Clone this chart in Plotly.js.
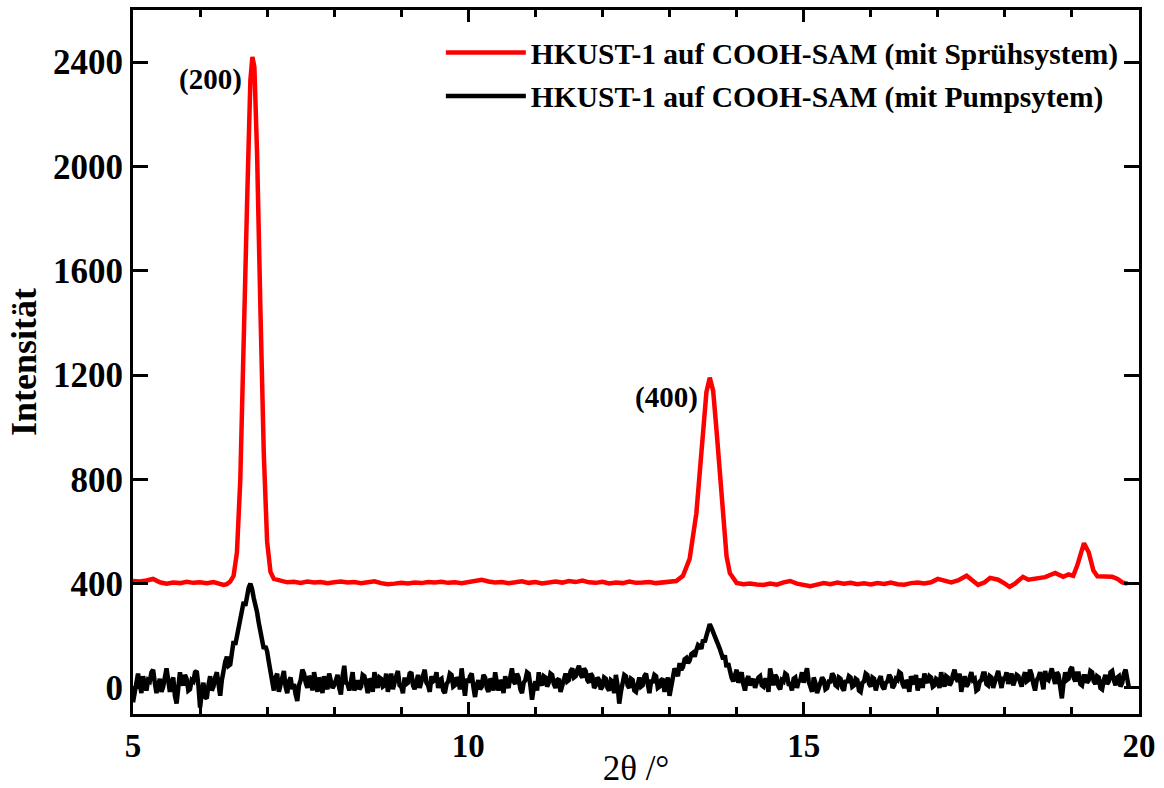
<!DOCTYPE html>
<html>
<head>
<meta charset="utf-8">
<script src="https://cdn.plot.ly/plotly-3.0.1.min.js"></script>
<style>html,body{margin:0;padding:0;background:#fff;}#chart{width:1164px;height:788px;}</style>
</head>
<body>
<div id="chart"></div>
<script>
// Red series: HKUST-1 auf COOH-SAM (mit Sprühsystem)
const redX = [5.00,5.10,5.20,5.30,5.40,5.50,5.60,5.70,5.80,5.90,6.00,6.10,6.20,6.30,6.35,6.40,6.45,6.50,6.55,6.60,6.65,6.70,6.75,6.78,6.81,6.85,6.90,6.95,7.00,7.05,7.10,7.20,7.30,7.40,7.50,7.60,7.70,7.80,7.90,8.00,8.10,8.20,8.30,8.40,8.50,8.60,8.70,8.80,8.90,9.00,9.10,9.20,9.30,9.40,9.50,9.60,9.70,9.80,9.90,10.00,10.10,10.20,10.30,10.40,10.50,10.60,10.70,10.80,10.90,11.00,11.10,11.20,11.30,11.40,11.50,11.60,11.70,11.80,11.90,12.00,12.10,12.20,12.30,12.40,12.50,12.60,12.70,12.80,12.90,13.00,13.10,13.20,13.30,13.40,13.45,13.50,13.55,13.60,13.65,13.70,13.75,13.80,13.85,13.90,14.00,14.10,14.20,14.30,14.40,14.50,14.60,14.70,14.80,14.90,15.00,15.10,15.20,15.30,15.40,15.50,15.60,15.70,15.80,15.90,16.00,16.10,16.20,16.30,16.40,16.50,16.60,16.70,16.80,16.90,17.00,17.10,17.20,17.30,17.43,17.60,17.70,17.78,17.90,18.00,18.07,18.15,18.27,18.35,18.48,18.60,18.75,18.87,18.95,19.02,19.08,19.18,19.25,19.32,19.38,19.50,19.60,19.68,19.75,19.83];
const redY = [410,408,412,418,405,400,404,402,407,403,405,402,406,398,395,398,408,430,520,800,1250,1850,2330,2420,2380,2050,1450,900,560,445,418,410,405,407,403,408,404,406,402,405,408,404,406,402,404,409,402,398,400,403,401,404,402,406,404,407,403,405,402,406,410,415,408,404,406,402,405,409,403,406,401,404,408,404,410,406,412,405,403,407,401,404,402,408,403,404,406,402,405,404,410,430,495,670,810,990,1135,1190,1140,990,810,630,505,440,403,398,400,397,395,400,396,405,410,400,393,390,396,402,398,404,400,403,398,401,397,402,399,404,398,396,402,404,401,405,418,410,405,412,430,395,405,422,415,400,388,400,426,415,418,425,441,426,435,430,470,555,520,450,428,428,426,418,405,400];

// Black series: HKUST-1 auf COOH-SAM (mit Pumpsytem)
const blackX = [
5,5.025,5.05,5.075,5.1,5.125,5.15,5.175,5.2,5.225,5.25,5.275,5.3,5.325,5.35,5.375,5.4,5.425,5.45,5.475,5.5,5.525,5.55,5.575,5.6,5.625,5.65,5.675,5.7,5.725,5.75,5.775,5.8,5.825,5.85,5.875,5.9,5.925,5.95,5.975,
6,6.025,6.05,6.075,6.1,6.125,6.15,6.175,6.2,6.225,6.25,6.275,6.3,6.325,6.35,6.375,6.4,6.425,6.45,6.475,6.5,6.525,6.55,6.575,6.6,6.625,6.65,6.675,6.7,6.725,6.75,6.775,6.8,6.825,6.85,6.875,6.9,6.925,6.95,6.975,
7,7.025,7.05,7.075,7.1,7.125,7.15,7.175,7.2,7.225,7.25,7.275,7.3,7.325,7.35,7.375,7.4,7.425,7.45,7.475,7.5,7.525,7.55,7.575,7.6,7.625,7.65,7.675,7.7,7.725,7.75,7.775,7.8,7.825,7.85,7.875,7.9,7.925,7.95,7.975,
8,8.025,8.05,8.075,8.1,8.125,8.15,8.175,8.2,8.225,8.25,8.275,8.3,8.325,8.35,8.375,8.4,8.425,8.45,8.475,8.5,8.525,8.55,8.575,8.6,8.625,8.65,8.675,8.7,8.725,8.75,8.775,8.8,8.825,8.85,8.875,8.9,8.925,8.95,8.975,
9,9.025,9.05,9.075,9.1,9.125,9.15,9.175,9.2,9.225,9.25,9.275,9.3,9.325,9.35,9.375,9.4,9.425,9.45,9.475,9.5,9.525,9.55,9.575,9.6,9.625,9.65,9.675,9.7,9.725,9.75,9.775,9.8,9.825,9.85,9.875,9.9,9.925,9.95,9.975,
10,10.025,10.05,10.075,10.1,10.125,10.15,10.175,10.2,10.225,10.25,10.275,10.3,10.325,10.35,10.375,10.4,10.425,10.45,10.475,10.5,10.525,10.55,10.575,10.6,10.625,10.65,10.675,10.7,10.725,10.75,10.775,10.8,10.825,10.85,10.875,10.9,10.925,10.95,10.975,
11,11.025,11.05,11.075,11.1,11.125,11.15,11.175,11.2,11.225,11.25,11.275,11.3,11.325,11.35,11.375,11.4,11.425,11.45,11.475,11.5,11.525,11.55,11.575,11.6,11.625,11.65,11.675,11.7,11.725,11.75,11.775,11.8,11.825,11.85,11.875,11.9,11.925,11.95,11.975,
12,12.025,12.05,12.075,12.1,12.125,12.15,12.175,12.2,12.225,12.25,12.275,12.3,12.325,12.35,12.375,12.4,12.425,12.45,12.475,12.5,12.525,12.55,12.575,12.6,12.625,12.65,12.675,12.7,12.725,12.75,12.775,12.8,12.825,12.85,12.875,12.9,12.925,12.95,12.975,
13,13.025,13.05,13.075,13.1,13.125,13.15,13.175,13.2,13.225,13.25,13.275,13.3,13.325,13.35,13.375,13.4,13.425,13.45,13.475,13.5,13.525,13.55,13.575,13.6,13.625,13.65,13.675,13.7,13.725,13.75,13.775,13.8,13.825,13.85,13.875,13.9,13.925,13.95,13.975,
14,14.025,14.05,14.075,14.1,14.125,14.15,14.175,14.2,14.225,14.25,14.275,14.3,14.325,14.35,14.375,14.4,14.425,14.45,14.475,14.5,14.525,14.55,14.575,14.6,14.625,14.65,14.675,14.7,14.725,14.75,14.775,14.8,14.825,14.85,14.875,14.9,14.925,14.95,14.975,
15,15.025,15.05,15.075,15.1,15.125,15.15,15.175,15.2,15.225,15.25,15.275,15.3,15.325,15.35,15.375,15.4,15.425,15.45,15.475,15.5,15.525,15.55,15.575,15.6,15.625,15.65,15.675,15.7,15.725,15.75,15.775,15.8,15.825,15.85,15.875,15.9,15.925,15.95,15.975,
16,16.025,16.05,16.075,16.1,16.125,16.15,16.175,16.2,16.225,16.25,16.275,16.3,16.325,16.35,16.375,16.4,16.425,16.45,16.475,16.5,16.525,16.55,16.575,16.6,16.625,16.65,16.675,16.7,16.725,16.75,16.775,16.8,16.825,16.85,16.875,16.9,16.925,16.95,16.975,
17,17.025,17.05,17.075,17.1,17.125,17.15,17.175,17.2,17.225,17.25,17.275,17.3,17.325,17.35,17.375,17.4,17.425,17.45,17.475,17.5,17.525,17.55,17.575,17.6,17.625,17.65,17.675,17.7,17.725,17.75,17.775,17.8,17.825,17.85,17.875,17.9,17.925,17.95,17.975,
18,18.025,18.05,18.075,18.1,18.125,18.15,18.175,18.2,18.225,18.25,18.275,18.3,18.325,18.35,18.375,18.4,18.425,18.45,18.475,18.5,18.525,18.55,18.575,18.6,18.625,18.65,18.675,18.7,18.725,18.75,18.775,18.8,18.825,18.85,18.875,18.9,18.925,18.95,18.975,
19,19.025,19.05,19.075,19.1,19.125,19.15,19.175,19.2,19.225,19.25,19.275,19.3,19.325,19.35,19.375,19.4,19.425,19.45,19.475,19.5,19.525,19.55,19.575,19.6,19.625,19.65,19.675,19.7,19.725,19.75,19.775,19.8,19.825,19.85];
const blackY = [
-55,-10,30,55,15,-20,45,10,-10,30,25,60,70,20,-20,10,35,-15,5,40,75,30,-15,20,40,-30,-60,0,60,25,10,50,35,-10,-5,30,25,60,65,10,
-75,-20,20,-35,-40,10,45,-10,5,40,60,15,-30,30,70,100,120,85,90,150,180,165,200,240,270,300,330,315,360,385,400,380,345,320,290,250,210,180,150,160,
140,100,60,20,-10,40,55,-15,10,50,65,5,-20,25,40,-5,15,-25,-50,10,30,70,55,20,0,45,35,-10,60,25,-15,40,20,-20,45,15,-5,55,30,0,
10,35,50,0,-25,45,85,20,15,-10,40,60,-10,20,30,-5,5,50,45,15,-20,35,25,-15,60,25,0,40,35,5,10,55,-15,20,55,-5,30,45,65,10,
5,-20,40,15,20,55,60,10,-5,35,50,0,25,45,70,20,10,-15,45,25,30,60,0,30,35,-10,-20,15,25,55,50,5,10,40,30,-5,75,20,-30,35,
20,45,55,5,-35,10,30,-5,5,50,40,0,-15,35,25,-10,60,20,-10,30,20,-20,45,15,0,40,75,25,15,55,40,-5,-20,20,30,60,55,10,-45,0,
25,-10,60,20,10,45,40,5,20,55,50,15,0,30,35,-15,15,40,55,25,30,65,75,40,45,70,85,50,40,75,65,30,20,55,45,0,10,40,30,-5,
5,40,35,0,-10,30,25,-20,50,10,-60,-15,20,50,45,10,0,35,30,-10,-15,20,40,5,10,45,55,15,-20,25,25,50,45,0,5,30,35,-15,15,40,
-30,20,40,75,60,45,95,70,80,110,115,95,105,130,135,120,145,165,160,150,185,175,200,225,245,230,215,205,190,170,150,130,110,125,80,95,60,40,25,55,
70,20,40,60,15,-10,30,45,10,25,35,0,20,40,45,10,5,30,30,-15,75,35,10,50,40,5,-5,30,25,55,50,15,15,-10,35,40,0,25,30,60,
20,50,75,25,10,-15,40,20,-20,5,15,40,30,-5,0,25,25,55,45,10,5,40,35,0,-10,30,20,45,40,5,10,35,30,-10,-15,20,25,55,50,15,
5,40,35,-10,15,30,45,5,-5,20,25,50,40,0,10,35,30,60,55,15,0,30,20,-15,45,25,15,50,-10,20,35,0,55,30,20,45,40,5,10,35,
30,0,60,25,5,45,40,10,20,50,70,35,25,55,-15,20,45,5,15,40,60,30,35,-10,-5,25,30,55,55,15,10,45,40,0,20,50,65,30,0,35,
35,60,15,40,55,10,25,50,45,20,5,40,60,25,30,70,50,15,-10,30,40,60,20,-5,65,35,30,55,75,40,15,60,50,5,-40,20,60,30,35,70,
80,40,25,55,55,15,10,45,45,20,30,65,60,25,15,45,40,0,-5,30,50,15,25,60,65,30,10,40,45,5,20,55,70,35,0];

const yTicks = [0,400,800,1200,1600,2000,2400];
const xTicks = [5,10,15,20];
const names = ['HKUST-1 auf COOH-SAM (mit Sprühsystem)','HKUST-1 auf COOH-SAM (mit Pumpsytem)'];
const peakLabels = ['(200)','(400)'];
const peakLabelX = [6.15,12.95];
const peakLabelY = [2335,1113];

const serif = 'Liberation Serif, Times New Roman, serif';

const traces = [
  {x: redX, y: redY, type:'scatter', mode:'lines', name: names[0], legendgroup:'a',
   line:{color:'#ff0000', width:4.5}},
  {x: blackX, y: blackY, type:'scatter', mode:'lines', name: names[1], legendgroup:'b',
   line:{color:'#000000', width:4.5}}
];

const layout = {
  width:1164, height:788,
  margin:{l:133, r:25, t:10, b:74},
  paper_bgcolor:'#fff', plot_bgcolor:'#fff',
  font:{family:serif, color:'#000'},
  showlegend:true,
  legend:{x:0.306, y:0.976, xanchor:'left', yanchor:'top', bgcolor:'rgba(0,0,0,0)',
    traceorder:'grouped', tracegroupgap:2, itemwidth:80,
    font:{family:serif, size:29.5, weight:'bold', color:'#000'}},
  xaxis:{range:[5,20], tickvals:xTicks, ticks:'inside', ticklen:12, tickwidth:3, tickcolor:'#000',
    showline:true, linewidth:3, linecolor:'#000', mirror:'ticks', showgrid:false, zeroline:false,
    minor:{dtick:1, tick0:5, ticks:'inside', ticklen:7, tickwidth:3, tickcolor:'#000', showgrid:false},
    tickfont:{family:serif, size:33, weight:'bold', color:'#000'},
    title:{text:'2θ /°', font:{family:serif, size:35, color:'#000'}, standoff:0}},
  yaxis:{range:[-100,2600], tickvals:yTicks, ticks:'inside', ticklen:15, tickwidth:3, tickcolor:'#000',
    showline:true, linewidth:3, linecolor:'#000', mirror:'ticks', showgrid:false, zeroline:false,
    tickfont:{family:serif, size:35, weight:'bold', color:'#000'},
    title:{text:'Intensität', font:{family:serif, size:36, weight:'bold', color:'#000'}, standoff:6}},
  annotations: peakLabels.map((t,i)=>({x:peakLabelX[i], y:peakLabelY[i], xref:'x', yref:'y', text:t,
    showarrow:false, font:{family:serif, size:29, weight:'bold', color:'#000'}}))
};

Plotly.newPlot('chart', traces, layout, {displayModeBar:false, staticPlot:true});
</script>
</body>
</html>
